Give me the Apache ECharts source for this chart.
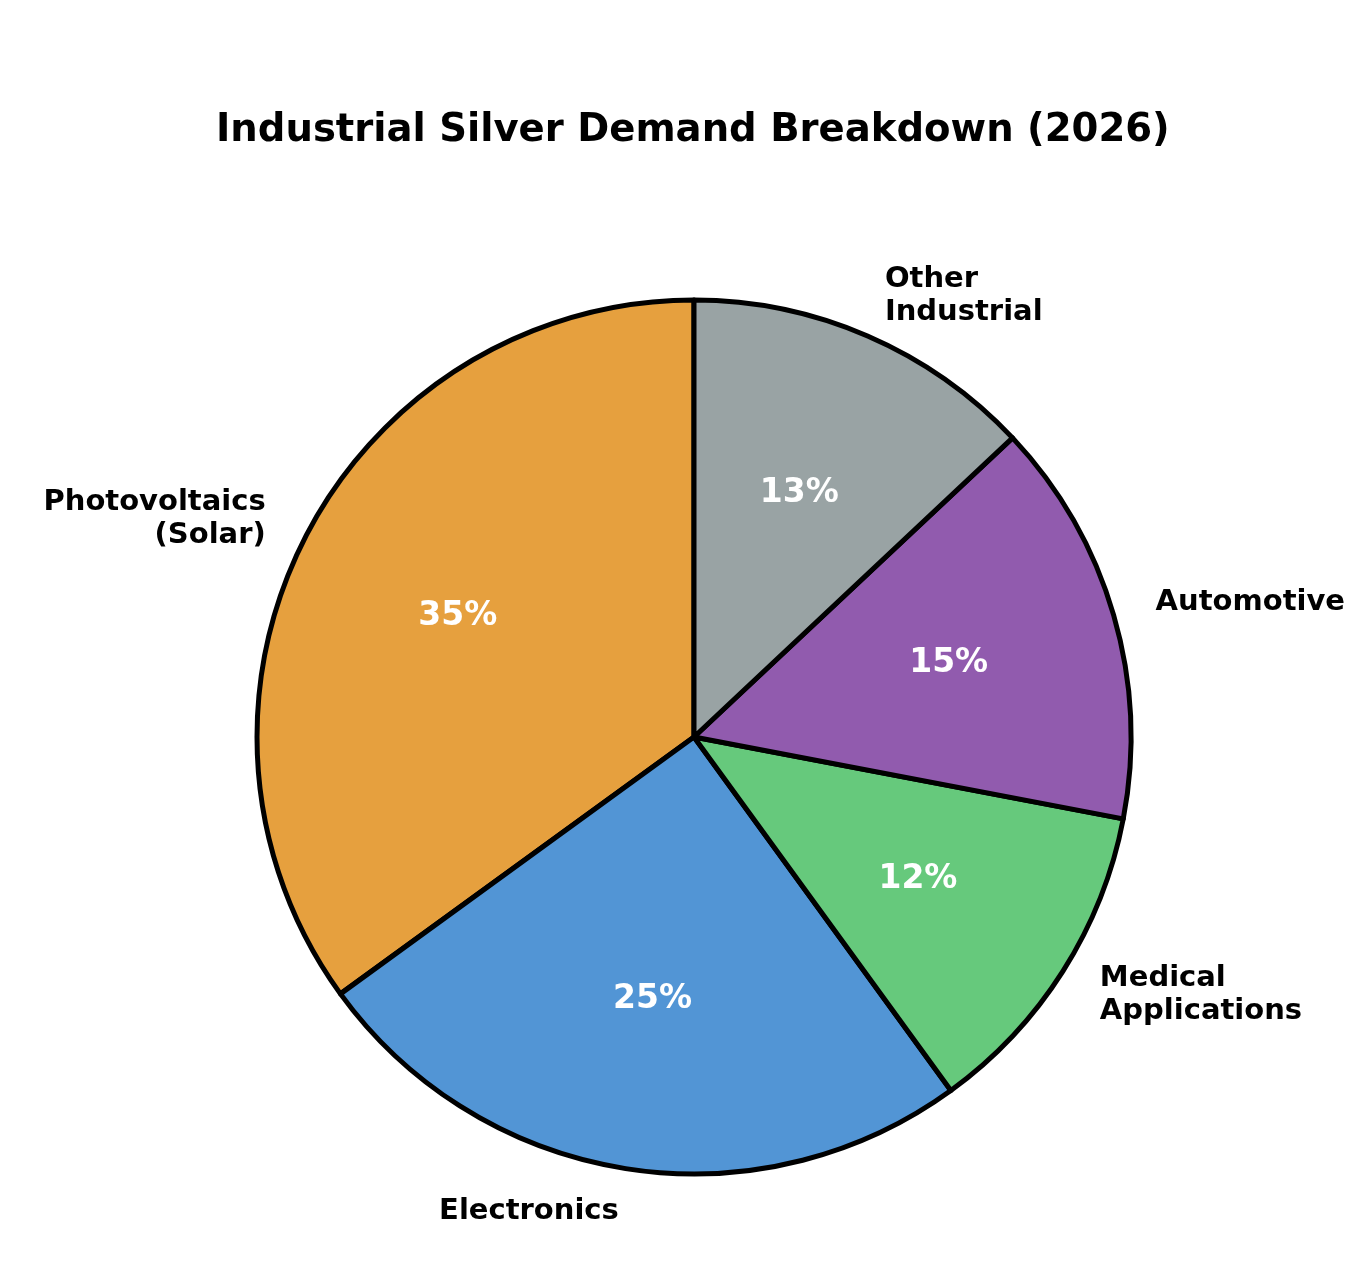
<!DOCTYPE html>
<html>
<head>
<meta charset="utf-8">
<script src="https://cdn.jsdelivr.net/npm/echarts@6/dist/echarts.min.js"></script>
<style>
  html, body { margin: 0; padding: 0; background: #ffffff; }
  #chart_view { width: 1360px; height: 1280px; }
</style>
</head>
<body>
<div id="chart_view"></div>
<script>
// data
var categories = ['Photovoltaics\n(Solar)', 'Electronics', 'Medical\nApplications', 'Automotive', 'Other\nIndustrial'];
var shares = [35, 25, 12, 15, 13];
var colors = ['#E6A03E', '#5295D5', '#66C97C', '#915BAE', '#99A3A4'];

var R = 437;   // pie radius in px
var font = 'DejaVu Sans';

var pieData = categories.map(function (name, i) {
    return { name: name, value: shares[i], itemStyle: { color: colors[i] } };
});

var myChart = echarts.init(document.getElementById('chart_view'), null, { renderer: 'canvas' });

var option = {
    animation: false,
    backgroundColor: '#ffffff',
    title: {
        text: 'Industrial Silver Demand Breakdown (2026)',
        left: 216,
        top: 111,
        padding: 0,
        textStyle: { fontFamily: font, fontSize: 38.6, fontWeight: 'bold', color: '#000000' }
    },
    series: [
        {
            // slices + outside category labels (at 1.1 R)
            type: 'pie',
            center: [694, 737],
            radius: [0, R],
            startAngle: 90,
            clockwise: false,
            avoidLabelOverlap: false,
            silent: true,
            data: pieData,
            itemStyle: { borderColor: '#000000', borderWidth: 5 },
            label: {
                show: true,
                position: 'outside',
                distanceToLabelLine: 0,
                formatter: '{b}',
                fontFamily: font,
                fontSize: 29,
                fontWeight: 'bold',
                lineHeight: 33,
                color: '#000000'
            },
            labelLine: { show: false, length: R * 0.1, length2: 0 },
            emphasis: { disabled: true }
        },
        {
            // transparent ring so that the inside labels sit at 0.6 R
            type: 'pie',
            center: [694, 737],
            radius: [R * 0.4, R * 0.8],
            startAngle: 90,
            clockwise: false,
            avoidLabelOverlap: false,
            silent: true,
            z: 5,
            data: shares.map(function (v, i) { return { name: categories[i], value: v }; }),
            itemStyle: { color: 'rgba(0,0,0,0)', borderWidth: 0 },
            label: {
                show: true,
                position: 'inside',
                formatter: function (p) { return Math.round(p.percent) + '%'; },
                fontFamily: font,
                fontSize: 33,
                fontWeight: 'bold',
                color: '#ffffff'
            },
            labelLine: { show: false },
            emphasis: { disabled: true }
        }
    ]
};

myChart.setOption(option);
</script>
</body>
</html>
